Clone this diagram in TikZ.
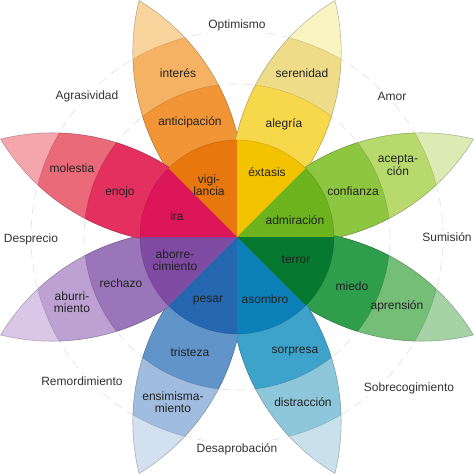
\documentclass[tikz,border=0pt]{standalone}
\usepackage{fontspec}
\setmainfont{Liberation Sans}
\definecolor{txt}{HTML}{222222}
% orange
\definecolor{o1}{HTML}{E8770E}\definecolor{o2}{HTML}{F29537}\definecolor{o3}{HTML}{F5B263}\definecolor{o4}{HTML}{F9D49D}
% yellow
\definecolor{y1}{HTML}{F3C200}\definecolor{y2}{HTML}{F7D84B}\definecolor{y3}{HTML}{EEDC88}\definecolor{y4}{HTML}{FAF3C2}
% light green
\definecolor{g1}{HTML}{6CB31E}\definecolor{g2}{HTML}{8DC641}\definecolor{g3}{HTML}{B8D96B}\definecolor{g4}{HTML}{DCEBB4}
% dark green
\definecolor{d1}{HTML}{07782F}\definecolor{d2}{HTML}{2F9E4C}\definecolor{d3}{HTML}{74BE77}\definecolor{d4}{HTML}{A6D3A6}
% teal
\definecolor{t1}{HTML}{0C80B8}\definecolor{t2}{HTML}{3EA3CA}\definecolor{t3}{HTML}{8EC7DB}\definecolor{t4}{HTML}{C8E1EA}
% blue
\definecolor{b1}{HTML}{2567B0}\definecolor{b2}{HTML}{6194C8}\definecolor{b3}{HTML}{A0BCDF}\definecolor{b4}{HTML}{D2E0EF}
% purple
\definecolor{p1}{HTML}{7E4AA2}\definecolor{p2}{HTML}{9A75B9}\definecolor{p3}{HTML}{BDA1D2}\definecolor{p4}{HTML}{DAC6E6}
% red
\definecolor{r1}{HTML}{DD1559}\definecolor{r2}{HTML}{E3305F}\definecolor{r3}{HTML}{EA6A79}\definecolor{r4}{HTML}{F4A6AC}
\tikzset{
  petalpath/.style={insert path={(0,0) arc[start angle=126.33, end angle=53.67, radius=216.05] arc[start angle=-53.67, end angle=-126.33, radius=216.05] -- cycle}},
  petaledge/.style={draw=black, draw opacity=0.25, line width=0.6pt},
  bandline/.style={draw=black, draw opacity=0.15, line width=0.5pt},
  guide/.style={draw=black!11, line width=0.7pt, dash pattern=on 9pt off 6pt},
  lbl/.style={text=txt, font=\fontsize{12}{12.5}\selectfont, align=center, inner sep=0pt},
  outer/.style={text=black!80, font=\fontsize{12}{12.5}\selectfont, align=center, fill=white, inner sep=2pt},
}
\newcommand\petal[5]{%
  \begin{scope}[rotate=#1]
    \begin{scope}
      \clip[petalpath];
      \fill[#2] (0,0) circle[radius=262];
      \fill[#3] (0,0) circle[radius=206];
      \fill[#4] (0,0) circle[radius=153];
      \draw[bandline] (0,0) circle[radius=206] (0,0) circle[radius=153];
    \end{scope}
    \draw[petaledge, petalpath];
  \end{scope}}
\newcommand\innerwedge[2]{%
  \fill[#2] (0,0) -- (#1-22.5:97) arc[start angle=#1-22.5, end angle=#1+22.5, radius=97] -- cycle;}
\begin{document}
\begin{tikzpicture}[x=1pt,y=1pt]
\useasboundingbox (-237,-237) rectangle (237,237);
\fill[white] (-237,-237) rectangle (237,237);
\draw[guide] (0,0) circle[radius=153];
\draw[guide] (0,0) circle[radius=206];
% outer labels
\node[outer] (optimismo) at (0,212) {Optimismo};
\node[outer] (amor) at (155,141) {Amor};
\node[outer] (sumision) at (210,0) {Sumisión};
\node[outer] (sobrecog) at (172,-151) {Sobrecogimiento};
\node[outer] (desaprob) at (0,-212) {Desaprobación};
\node[outer] (remord) at (-155,-144) {Remordimiento};
\node[outer] (desprecio) at (-206,-2) {Desprecio};
\node[outer] (agresiv) at (-150,141) {Agrasividad};
% petals
\petal{112.5}{o4}{o3}{o2}{}
\petal{67.5}{y4}{y3}{y2}{}
\petal{22.5}{g4}{g3}{g2}{}
\petal{-22.5}{d4}{d3}{d2}{}
\petal{-67.5}{t4}{t3}{t2}{}
\petal{-112.5}{b4}{b3}{b2}{}
\petal{-157.5}{p4}{p3}{p2}{}
\petal{157.5}{r4}{r3}{r2}{}
% inner disk
\innerwedge{112.5}{o1}
\innerwedge{67.5}{y1}
\innerwedge{22.5}{g1}
\innerwedge{-22.5}{d1}
\innerwedge{-67.5}{t1}
\innerwedge{-112.5}{b1}
\innerwedge{-157.5}{p1}
\innerwedge{157.5}{r1}
\draw[bandline] (0,0) circle[radius=97];
% inner labels
\node[lbl] (vigilancia) at (-28,52) {vigi-\\lancia};
\node[lbl] (extasis) at (30,65) {éxtasis};
\node[lbl] (admiracion) at (58,17) {admiración};
\node[lbl] (terror) at (59,-23) {terror};
\node[lbl] (asombro) at (28,-62) {asombro};
\node[lbl] (pesar) at (-29,-64) {pesar};
\node[lbl] (aborrec) at (-62,-23) {aborre-\\cimiento};
\node[lbl] (ira) at (-60,21) {ira};
% middle labels
\node[lbl] (anticip) at (-47,115) {anticipación};
\node[lbl] (alegria) at (47,113) {alegría};
\node[lbl] (confianza) at (116,46) {confianza};
\node[lbl] (miedo) at (115,-49) {miedo};
\node[lbl] (sorpresa) at (58,-115) {sorpresa};
\node[lbl] (tristeza) at (-47,-115) {tristeza};
\node[lbl] (rechazo) at (-116,-46) {rechazo};
\node[lbl] (enojo) at (-117,45) {enojo};
% outer band labels
\node[lbl] (interes) at (-59,164) {interés};
\node[lbl] (serenidad) at (65,164) {serenidad};
\node[lbl] (aceptacion) at (161,72) {acepta-\\ción};
\node[lbl] (aprension) at (160,-69) {aprensión};
\node[lbl] (distraccion) at (66,-165) {distracción};
\node[lbl] (ensimism) at (-64,-165) {ensimisma-\\miento};
\node[lbl] (aburrim) at (-165,-65) {aburri-\\miento};
\node[lbl] (molestia) at (-165,69) {molestia};
\end{tikzpicture}
\end{document}
